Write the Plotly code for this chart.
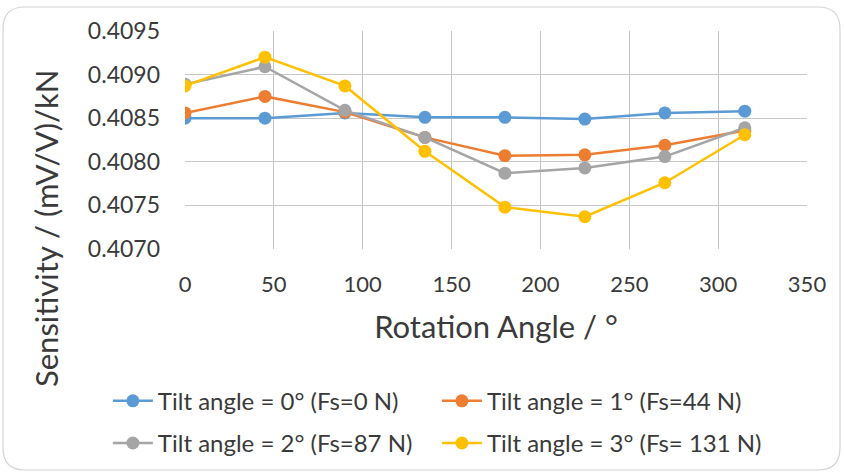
import plotly.graph_objects as go

angles = [0, 45, 90, 135, 180, 225, 270, 315]
tilt0 = [0.40850, 0.40850, 0.40856, 0.40851, 0.40851, 0.40849, 0.40856, 0.40858]
tilt1 = [0.40856, 0.40875, 0.40857, 0.40828, 0.40807, 0.40808, 0.40819, 0.40836]
tilt2 = [0.40889, 0.40909, 0.40859, 0.40828, 0.40787, 0.40793, 0.40806, 0.40839]
tilt3 = [0.40887, 0.40920, 0.40887, 0.40812, 0.40748, 0.40737, 0.40776, 0.40831]
names = ["Tilt angle = 0° (Fs=0 N)", "Tilt angle = 1° (Fs=44 N)",
         "Tilt angle = 2° (Fs=87 N)", "Tilt angle = 3° (Fs= 131 N)"]
colors = ["#5b9bd5", "#ed7d31", "#a5a5a5", "#ffc000"]
legend_ids = ["legend", "legend2", "legend", "legend2"]
yticks = [0.4070, 0.4075, 0.4080, 0.4085, 0.4090, 0.4095]
xticks = [0, 50, 100, 150, 200, 250, 300, 350]
x_title = "Rotation Angle / °"
y_title = "Sensitivity / (mV/V)/kN"

FONT = "Lato, Noto Sans, sans-serif"
TXT = "#3a3a3a"

# plot area in pixels: left 185, top 31, width 622, height 218
L, T, W, H = 185, 31, 622, 218
def px(x):
    return (x - L) / W
def py(y):
    return (T + H - y) / H

fig = go.Figure()
for i, (vals, name, col, lg) in enumerate(zip([tilt0, tilt1, tilt2, tilt3], names, colors, legend_ids)):
    fig.add_trace(go.Scatter(x=angles, y=vals, name=name, mode="lines+markers",
                             line=dict(color=col, width=2.5),
                             marker=dict(color=col, size=13),
                             legend=lg, legendgroup=f"g{i}"))

legend_common = dict(orientation="v", yanchor="top", y=-0.595, xanchor="left",
                     font=dict(family=FONT, size=24, color=TXT),
                     tracegroupgap=8, itemwidth=40, bgcolor="rgba(0,0,0,0)")

x_l, x_r, y_t, y_b = px(3), px(840), py(7), py(470)
x_l2, x_r2, y_t2, y_b2 = px(25), px(818), py(29), py(448)
border = (f"M {x_l2},{y_t} L {x_r2},{y_t} Q {x_r},{y_t} {x_r},{y_t2} "
          f"L {x_r},{y_b2} Q {x_r},{y_b} {x_r2},{y_b} "
          f"L {x_l2},{y_b} Q {x_l},{y_b} {x_l},{y_b2} "
          f"L {x_l},{y_t2} Q {x_l},{y_t} {x_l2},{y_t} Z")

fig.update_layout(
    width=844, height=475,
    margin=dict(l=L, r=844 - L - W, t=T, b=475 - T - H, autoexpand=False),
    paper_bgcolor="white", plot_bgcolor="white",
    font=dict(family=FONT, color=TXT, size=22),
    legend=dict(x=-0.124, **legend_common),
    legend2=dict(x=0.405, **legend_common),
    shapes=[dict(type="path", xref="paper", yref="paper", path=border,
                 line=dict(color="#d4d4d4", width=1.2), layer="below"),
            # Excel draws no gridline at the right plot edge
            dict(type="line", xref="x", yref="paper", x0=xticks[-1], x1=xticks[-1],
                 y0=0, y1=1, line=dict(color="white", width=2), layer="below")],
    annotations=[dict(text=y_title, textangle=-90, xref="paper", yref="paper",
                      x=px(46), y=py(228), xanchor="center", yanchor="middle",
                      showarrow=False, font=dict(family=FONT, size=31, color=TXT))],
)
fig.update_xaxes(range=[0, 350], tickvals=xticks, ticktext=[str(v) for v in xticks],
                 showgrid=True, gridcolor="#c4c4c4", gridwidth=1,
                 showline=False, zeroline=False, ticks="", automargin=False,
                 ticklabelstandoff=20,
                 tickfont=dict(family=FONT, size=22, color=TXT),
                 title=dict(text=x_title, font=dict(family=FONT, size=31, color=TXT),
                            standoff=20))
fig.update_yaxes(range=[0.4070, 0.4095], tickvals=yticks,
                 ticktext=[f"{v:.4f}" for v in yticks],
                 showgrid=True, gridcolor="#c8c8c8", gridwidth=1,
                 showline=False, zeroline=False, ticks="", automargin=False,
                 ticklabelstandoff=24,
                 tickfont=dict(family=FONT, size=23, color=TXT))

fig.write_html("out.html", config={"displayModeBar": False},
               post_script="document.body.style.margin='0';")
